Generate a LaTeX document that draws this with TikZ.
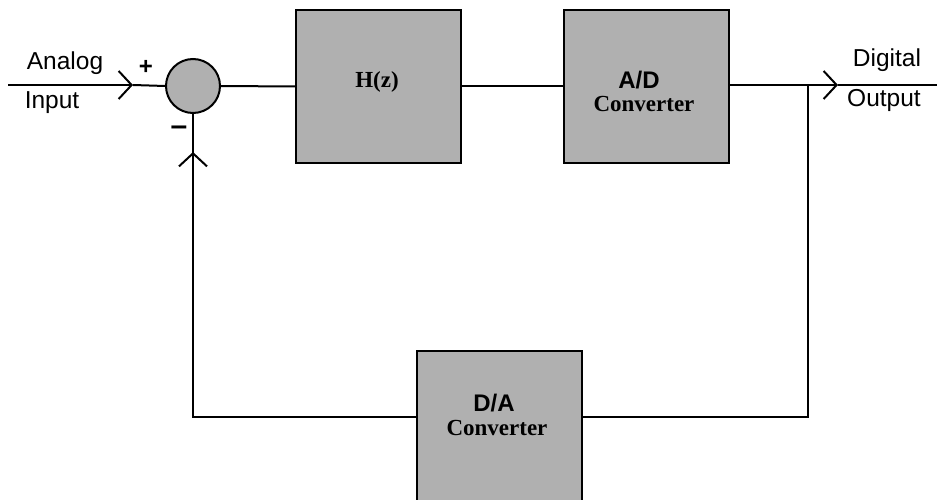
\documentclass[tikz,border=0pt]{standalone}
\usepackage{fontspec}
\setmainfont{Liberation Serif}
\newfontfamily\arialf{Liberation Sans}
\usetikzlibrary{arrows.meta}
\begin{document}
\begin{tikzpicture}[x=1pt,y=-1pt,
  wire/.style={line width=2pt},
  chev/.style={wire,-{Straight Barb[length=13pt,width=28pt,line width=2pt]}},
  blk/.style={draw,line width=2pt,fill=gray!62,minimum width=165pt,minimum height=153pt,inner sep=0pt},
  sans/.style={font=\arialf\fontsize{24.5}{26}\selectfont,inner sep=0pt},
  sansb/.style={font=\arialf\fontsize{24}{26}\selectfont\bfseries,inner sep=0pt},
  serif/.style={font=\fontsize{23}{25}\selectfont\bfseries,inner sep=0pt}]
\useasboundingbox (0,0) rectangle (937,500);
% blocks
\node[blk] (hz) at (378.5,86.5) {};
\node[blk] (ad) at (646,86.5) {};
\node[blk,minimum height=150pt] (da) at (499.5,426) {};
\node[circle,draw,line width=2pt,fill=gray!62,minimum size=54pt,inner sep=0pt] (sum) at (193,86) {};
% texts
\node[serif] (thz) at (377,82) {H(z)};
\node[sansb] (tad) at (639,80) {A/D};
\node[serif] (tadc) at (644,104) {Converter};
\node[sansb] (tda) at (494,403) {D/A};
\node[serif] (tdac) at (497,428) {Converter};
\node[sans] (tan) at (65,63) {Analog};
\node[sans] (tin) at (52,103) {Input};
\node[sans,font=\arialf\fontsize{24}{26}\selectfont\bfseries] (tplus) at (146,67) {+};
\node[sans,font=\arialf\fontsize{30}{30}\selectfont\bfseries] (tminus) at (179,131) {–};
\node[sans] (tdig) at (887,60) {Digital};
\node[sans] (tout) at (884,100) {Output};
% coordinates
\coordinate (in) at (8,85);
\coordinate (intip) at (133,85);
\coordinate (out) at (937,85);
\coordinate (outtip) at (838,85);
\coordinate (tap) at (808,85);
\coordinate (tapd) at (808,417);
\coordinate (fbl) at (193,417);
\coordinate (fbtip) at (193,152);
% wires
\draw[chev] (in) -- (intip);
\draw[wire] (intip) -- (sum.west);
\draw[wire] (sum.east) -- (hz.west);
\draw[wire] (hz.east) -- (ad.west);
\draw[chev] (ad.east |- outtip) -- (outtip);
\draw[wire] (outtip) -- (out);
\draw[wire] (tap) -- (tapd) -- (da.east |- tapd);
\draw[wire] (da.west |- fbl) -- (fbl) -- (fbtip);
\draw[chev] (sum.south |- 0,190) -- (fbtip);
\draw[wire] (fbtip) -- (sum.south);
\end{tikzpicture}
\end{document}
